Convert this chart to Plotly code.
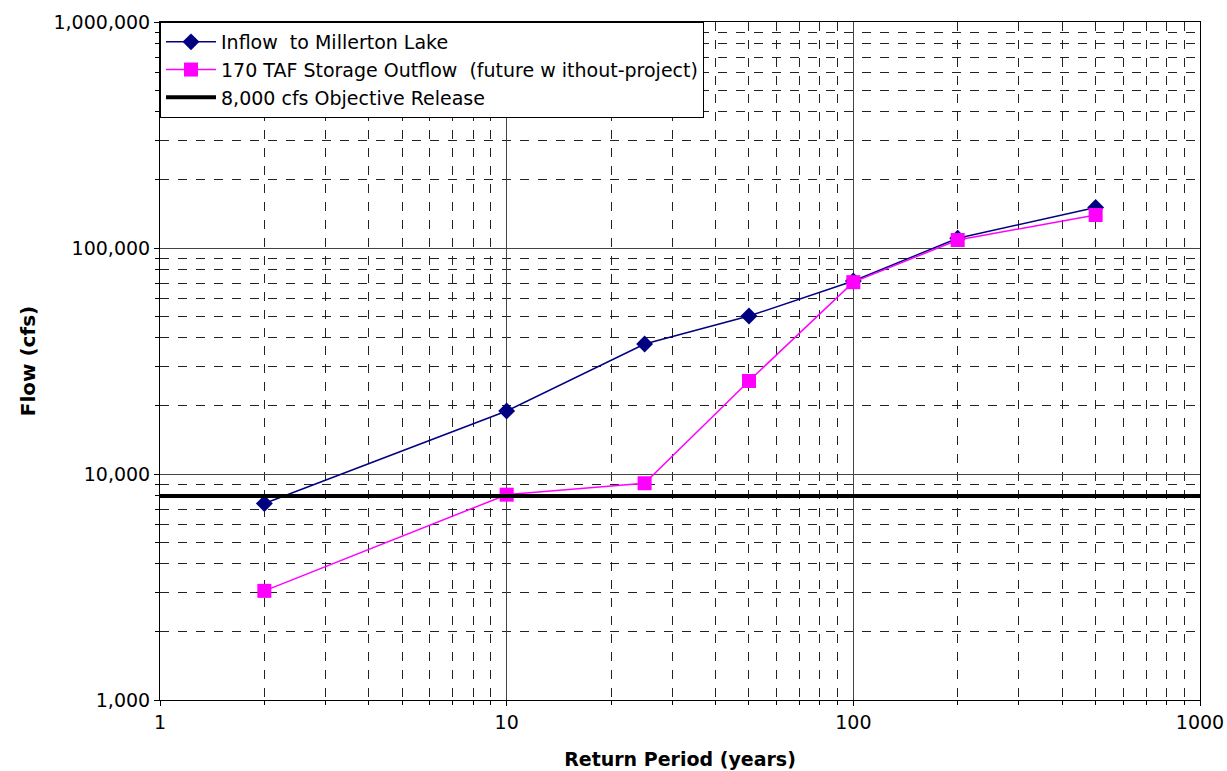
import plotly.graph_objects as go

return_period = [2, 10, 25, 50, 100, 200, 500]
inflow = [7400, 19000, 37600, 50000, 71400, 110500, 151000]
outflow = [3040, 8100, 9100, 25800, 70600, 108500, 140000]
objective_x = [1, 1000]
objective_y = [8000, 8000]

x_ticks = [1, 10, 100, 1000]
x_labels = ["1", "10", "100", "1000"]
y_ticks = [1000, 10000, 100000, 1000000]
y_labels = ["1,000", "10,000", "100,000", "1,000,000"]
minor_x = [m * d for d in (1, 10, 100) for m in range(2, 10)]
minor_y = [m * d for d in (1000, 10000, 100000) for m in range(2, 10)]

FONT = "DejaVu Sans, Verdana, sans-serif"

fig = go.Figure()
fig.add_trace(go.Scatter(
    x=return_period, y=inflow, mode="lines+markers",
    name="Inflow  to Millerton Lake",
    line=dict(color="#000080", width=1.5),
    marker=dict(symbol="diamond", size=13, color="#000080"),
))
fig.add_trace(go.Scatter(
    x=return_period, y=outflow, mode="lines+markers",
    name="170 TAF Storage Outflow  (future w ithout-project)",
    line=dict(color="#FF00FF", width=1.5),
    marker=dict(symbol="square", size=14, color="#FF00FF"),
))
fig.add_trace(go.Scatter(
    x=objective_x, y=objective_y, mode="lines",
    name="8,000 cfs Objective Release",
    line=dict(color="black", width=4),
))

axis_common = dict(
    type="log", showline=True, linecolor="black", linewidth=1, mirror=True,
    showgrid=True, gridcolor="#444444", gridwidth=1,
    ticks="outside", ticklen=5, tickcolor="black",
    tickfont=dict(family=FONT, size=19, color="black"),
    zeroline=False, automargin=False,
)

fig.update_xaxes(
    **axis_common,
    range=[0, 3], tickvals=x_ticks, ticktext=x_labels,
    minor=dict(tickvals=minor_x, showgrid=True, griddash="dash",
               gridcolor="#222222", gridwidth=1, ticks="outside", ticklen=4, tickcolor="black"),
    title=dict(text="<b>Return Period (years)</b>", font=dict(family=FONT, size=19, color="black"), standoff=20),
)
fig.update_yaxes(
    **axis_common,
    range=[3, 6], tickvals=y_ticks, ticktext=y_labels,
    minor=dict(tickvals=minor_y, showgrid=True, griddash="dash",
               gridcolor="#222222", gridwidth=1, ticks="outside", ticklen=4, tickcolor="black"),
    title=dict(text="<b>Flow (cfs)</b>", font=dict(family=FONT, size=20, color="black"), standoff=12),
)

fig.update_layout(
    width=1227, height=771,
    margin=dict(l=160, r=27, t=22, b=71),
    plot_bgcolor="white", paper_bgcolor="white",
    font=dict(family=FONT, size=19, color="black"),
    legend=dict(
        x=0, y=1, xanchor="left", yanchor="top",
        bgcolor="white", bordercolor="black", borderwidth=1,
        font=dict(family=FONT, size=19, color="black"),
        tracegroupgap=0, itemwidth=50,
    ),
)

fig.write_html("out.html")
